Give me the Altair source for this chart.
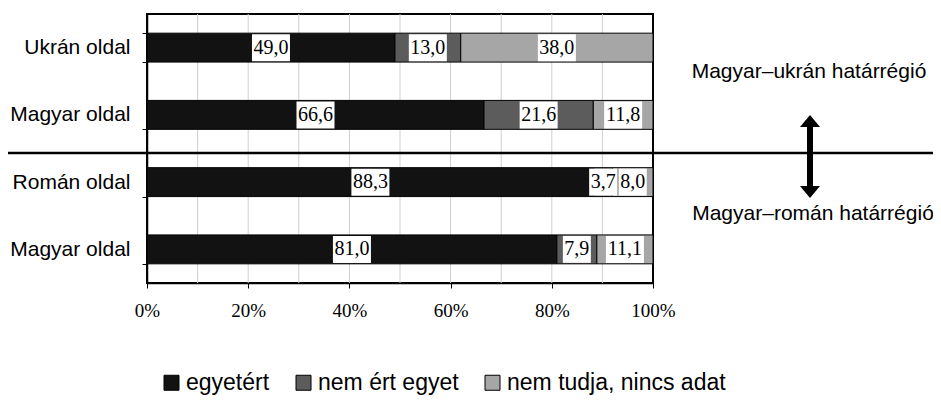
import altair as alt
import pandas as pd

# ---- data ----
row_keys = ["0|Ukrán oldal", "1|Magyar oldal", "2|Román oldal", "3|Magyar oldal"]
series = ["egyetért", "nem ért egyet", "nem tudja, nincs adat"]
agree = [49.0, 66.6, 88.3, 81.0]
disagree = [13.0, 21.6, 3.7, 7.9]
unknown = [38.0, 11.8, 8.0, 11.1]
x_ticks = [0, 20, 40, 60, 80, 100]
grid_values = [10, 20, 30, 40, 50, 60, 70, 80, 90]
region_labels = ["Magyar–ukrán határrégió", "Magyar–román határrégió"]
colors = ["#121212", "#5c5c5c", "#a6a6a6"]

rows = []
for i, k in enumerate(row_keys):
    for j, (s, vals) in enumerate(zip(series, [agree, disagree, unknown])):
        rows.append({"key": k, "series": s, "order": j, "value": vals[i]})
df = pd.DataFrame(rows)

xscale = alt.Scale(domain=[0, 100], nice=False, zero=True)
yscale = alt.Scale(domain=row_keys, paddingInner=0.57, paddingOuter=0.285)

xaxis = alt.Axis(title=None, values=x_ticks, labelExpr="datum.value + '%'",
                 labelFont="Liberation Serif", labelFontSize=19,
                 labelColor="black", tickSize=5, tickColor="black",
                 domainColor="black", domainWidth=1.5, labelPadding=13,
                 labelFlush=False, grid=False)
yaxis = alt.Axis(title=None, labelExpr="split(datum.label, '|')[1]",
                 labelFont="Liberation Sans", labelFontSize=21,
                 labelColor="black", tickSize=5, tickColor="black",
                 tickBand="extent", domainColor="black", domainWidth=1.5,
                 labelPadding=12, grid=False)

base = (
    alt.Chart(df)
    .transform_stack(stack="value", groupby=["key"], as_=["x0", "x1"],
                     sort=[alt.SortField("order", order="ascending")])
    .transform_calculate(
        mid="(datum.x0 + datum.x1) / 2",
        txt="replace(format(datum.value, '.1f'), '.', ',')",
    )
    .transform_calculate(w="length(datum.txt)")
)

grid = alt.Chart(pd.DataFrame({"g": grid_values})).mark_rule(
    color="#cfcfcf", strokeWidth=1
).encode(x=alt.X("g:Q", scale=xscale, axis=xaxis))

bars = base.mark_bar(stroke="black", strokeWidth=1, opacity=1).encode(
    x=alt.X("x0:Q", scale=xscale, axis=xaxis),
    x2="x1:Q",
    y=alt.Y("key:N", scale=yscale, sort=row_keys, axis=yaxis),
    color=alt.Color("series:N", scale=alt.Scale(domain=series, range=colors),
                    legend=alt.Legend(title=None, orient="none", legendX=13,
                                      legendY=357, direction="horizontal",
                                      symbolType="square", symbolSize=225,
                                      symbolStrokeColor="black",
                                      symbolStrokeWidth=1, symbolOpacity=1,
                                      labelFont="Liberation Sans", labelFontSize=23,
                                      labelColor="black", columnPadding=22,
                                      labelOffset=3, labelLimit=0)),
)

box4 = base.transform_filter("datum.w >= 4").mark_tick(
    color="white", thickness=38, size=27, opacity=1, orient="vertical"
).encode(x=alt.X("mid:Q", scale=xscale, axis=xaxis),
         y=alt.Y("key:N", scale=yscale, sort=row_keys, axis=yaxis))

box3 = base.transform_filter("datum.w < 4").mark_tick(
    color="white", thickness=28, size=27, opacity=1, orient="vertical"
).encode(x=alt.X("mid:Q", scale=xscale, axis=xaxis),
         y=alt.Y("key:N", scale=yscale, sort=row_keys, axis=yaxis))

labels = base.mark_text(font="Liberation Serif", fontSize=20, color="black").encode(
    x=alt.X("mid:Q", scale=xscale, axis=xaxis),
    y=alt.Y("key:N", scale=yscale, sort=row_keys, axis=yaxis),
    text="txt:N",
)

one = pd.DataFrame({"a": [0]})

separator = alt.Chart(one).mark_rule(color="black", strokeWidth=2.5).encode(
    x=alt.value(-147), x2=alt.value(800), y=alt.value(139)
)

shaft = alt.Chart(one).mark_rule(color="black", strokeWidth=6).encode(
    x=alt.value(663), y=alt.value(110), y2=alt.value(175)
)
head_up = alt.Chart(one).mark_point(
    shape="M0,-0.6L1,0.6L-1,0.6Z", filled=True, color="black", opacity=1, size=400
).encode(x=alt.value(663), y=alt.value(107))
head_down = alt.Chart(one).mark_point(
    shape="M0,0.6L1,-0.6L-1,-0.6Z", filled=True, color="black", opacity=1, size=400
).encode(x=alt.value(663), y=alt.value(178))

reg1 = alt.Chart(one).mark_text(
    text=region_labels[0], font="Liberation Sans", fontSize=21, color="black",
    align="center", baseline="middle"
).encode(x=alt.value(662), y=alt.value(58))
reg2 = alt.Chart(one).mark_text(
    text=region_labels[1], font="Liberation Sans", fontSize=21, color="black",
    align="center", baseline="middle"
).encode(x=alt.value(666), y=alt.value(200))

chart = alt.layer(
    grid, bars, box4, box3, labels, separator, shaft, head_up, head_down, reg1, reg2
).properties(
    width=506, height=269,
    autosize=alt.AutoSizeParams(type="none"),
    padding={"left": 139, "top": 6, "right": 280, "bottom": 118},
    background="white",
).configure_view(stroke="black", strokeWidth=2)

chart.save("out.html", embed_options={"renderer": "svg", "actions": False})
